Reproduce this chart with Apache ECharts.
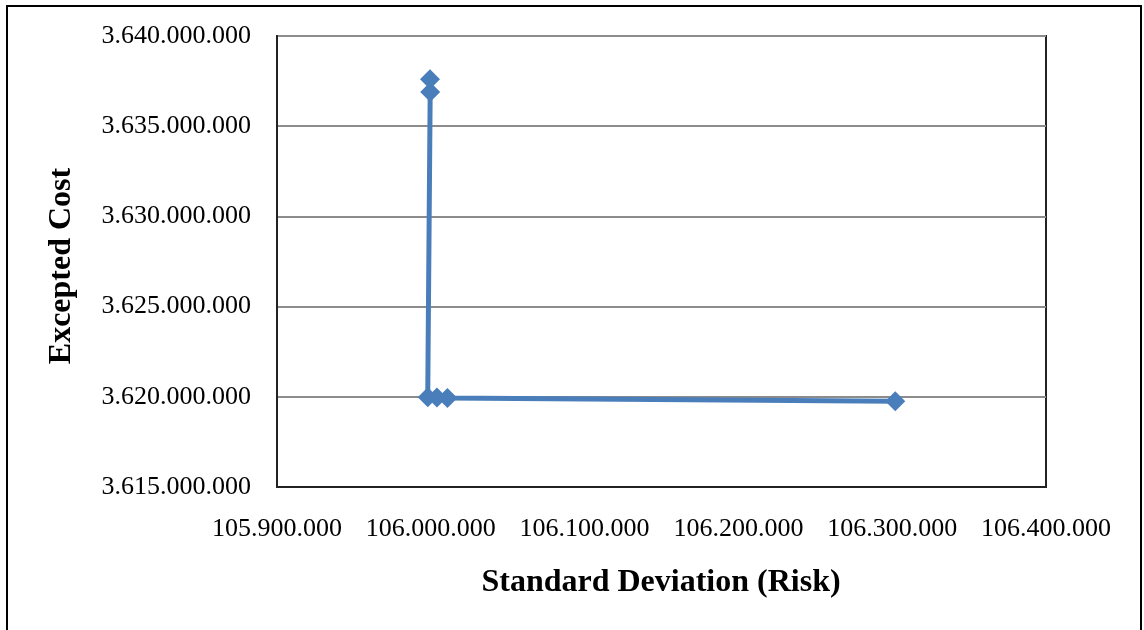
<!DOCTYPE html>
<html>
<head>
<meta charset="utf-8">
<script src="https://cdn.jsdelivr.net/npm/echarts@6/dist/echarts.min.js"></script>
<style>
  html, body { margin: 0; padding: 0; background: #fff; }
  #chart { width: 1144px; height: 630px; }
</style>
</head>
<body>
<div id="chart"></div>
<script>
// Efficient frontier: risk (standard deviation) vs. expected cost
const riskValues = [105999500, 105999600, 105998000, 106004000, 106010800, 106302000];
const costValues = [3637600000, 3636900000, 3619980000, 3619960000, 3619940000, 3619760000];

const xAxisTitle = 'Standard Deviation (Risk)';
const yAxisTitle = 'Excepted Cost';

const points = riskValues.map((r, i) => [r, costValues[i]]);

// thousands separated by dots
function dotted(v) {
  return String(Math.round(v)).replace(/\B(?=(\d{3})+(?!\d))/g, '.');
}

const serif = '"Liberation Serif", "Times New Roman", serif';
const chart = echarts.init(document.getElementById('chart'));

chart.setOption({
  animation: false,
  backgroundColor: '#fff',
  grid: { left: 277, top: 36, right: 98, bottom: 143, show: true, borderColor: '#222', borderWidth: 2 },
  xAxis: {
    type: 'value',
    min: 105900000, max: 106400000, interval: 100000,
    axisLine: { show: true, lineStyle: { color: '#222', width: 2 } },
    axisTick: { show: false },
    splitLine: { show: false },
    axisLabel: { formatter: dotted, fontFamily: serif, fontSize: 26, color: '#000', margin: 29 }
  },
  yAxis: {
    type: 'value',
    min: 3615000000, max: 3640000000, interval: 5000000,
    axisLine: { show: true, lineStyle: { color: '#222', width: 2 } },
    axisTick: { show: false },
    splitLine: { show: true, lineStyle: { color: '#8c8c8c', width: 2 } },
    axisLabel: { formatter: dotted, fontFamily: serif, fontSize: 26, color: '#000', margin: 26 }
  },
  series: [{
    type: 'line',
    data: points,
    symbol: 'diamond',
    symbolSize: 20,
    lineStyle: { color: '#4a7ebb', width: 5 },
    itemStyle: { color: '#4a7ebb' }
  }],
  graphic: [
    { type: 'rect', shape: { x: 7, y: 6, width: 1134, height: 640 },
      style: { fill: 'none', stroke: '#000', lineWidth: 2 }, silent: true },
    { type: 'text', x: 661, y: 583,
      style: { text: xAxisTitle, font: 'bold 32px ' + serif, fill: '#000', textAlign: 'center', textVerticalAlign: 'middle' } },
    { type: 'text', x: 62, y: 266, rotation: Math.PI / 2,
      style: { text: yAxisTitle, font: 'bold 32px ' + serif, fill: '#000', textAlign: 'center', textVerticalAlign: 'middle' } }
  ]
});
</script>
</body>
</html>
